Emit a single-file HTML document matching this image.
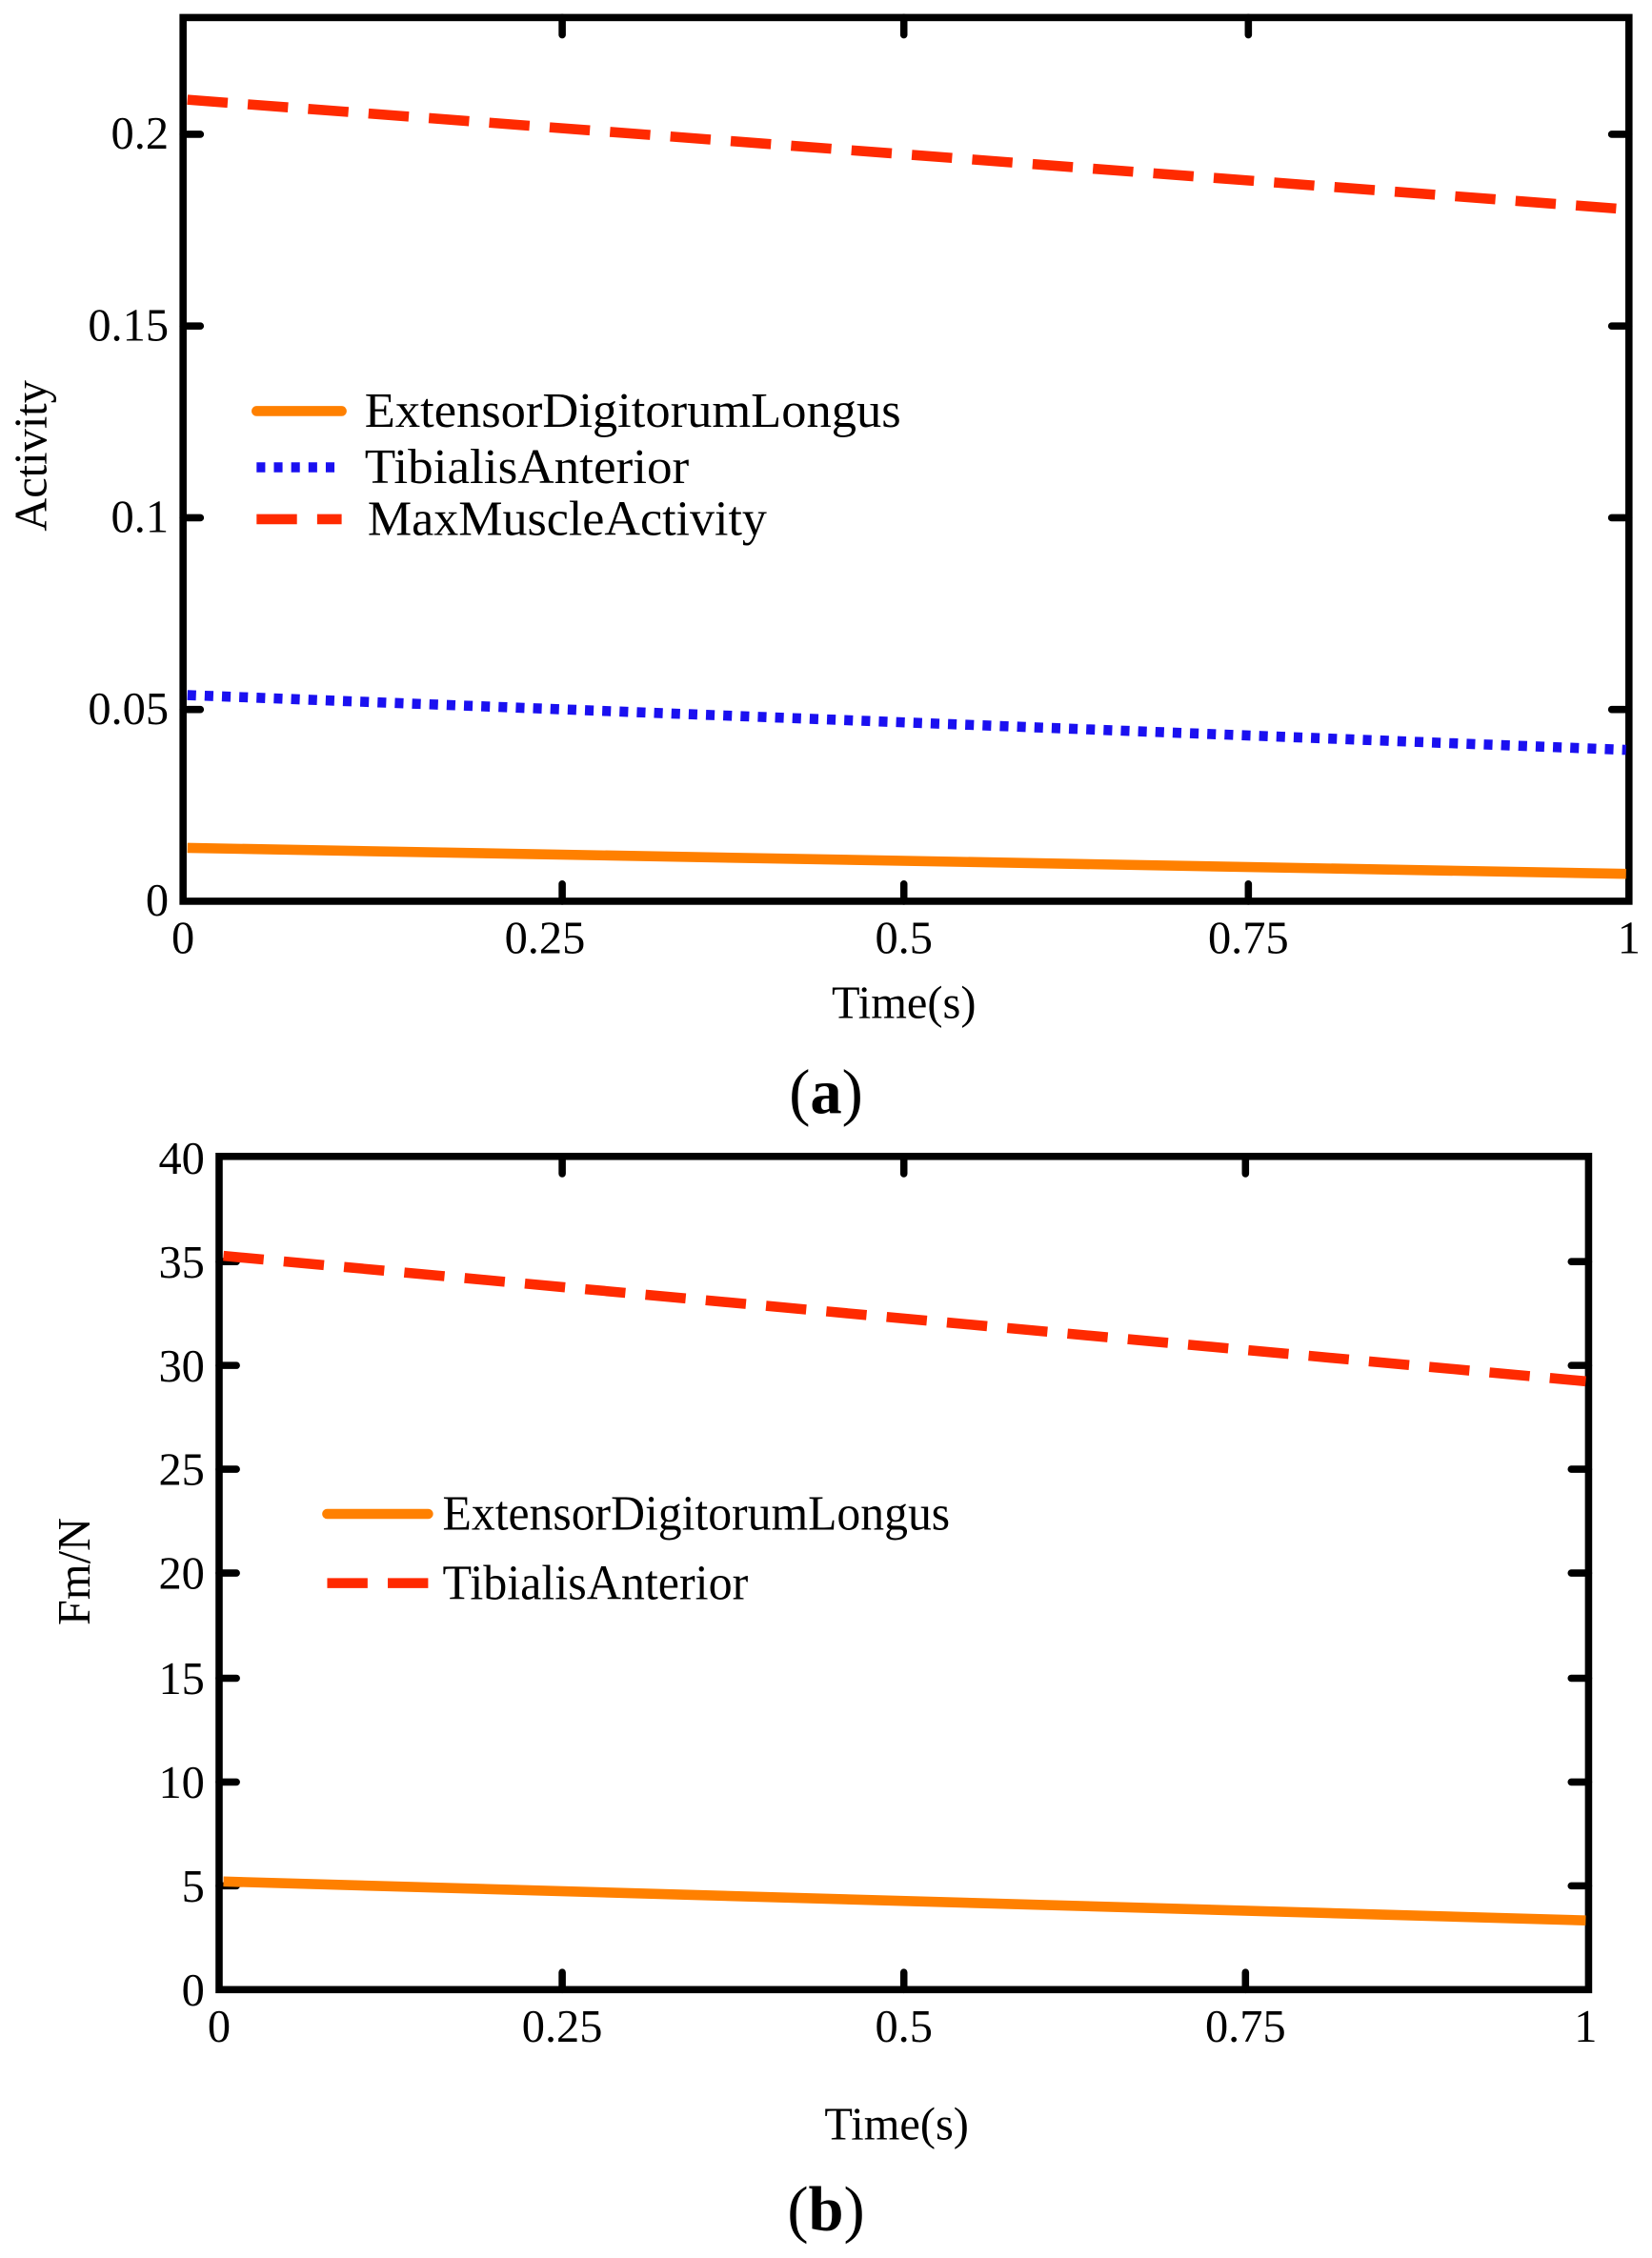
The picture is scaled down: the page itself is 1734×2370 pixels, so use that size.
<!DOCTYPE html>
<html><head><meta charset="utf-8"><style>html,body{margin:0;padding:0;background:#fff}svg{display:block}</style></head>
<body>
<svg width="1734" height="2370" viewBox="0 0 1146 1566" xmlns="http://www.w3.org/2000/svg" font-family="'Liberation Serif', serif">
<!-- Plot A -->
<g stroke="#000" stroke-width="5" fill="none">
<rect x="127" y="12" width="1003" height="613"/>
<path d="M390 625v-12M627 625v-12M866 625v-12M390 12v12M627 12v12M866 12v12
M127 492h12M127 359h12M127 226h12M127 93h12M1130 492h-12M1130 359h-12M1130 226h-12M1130 93h-12" stroke-linecap="round"/>
</g>
<line x1="130" y1="69" x2="1128" y2="145" stroke="#ff2a00" stroke-width="7" stroke-dasharray="28,14"/>
<line x1="130" y1="482" x2="1128" y2="520" stroke="#1a10f0" stroke-width="7" stroke-dasharray="6,6"/>
<line x1="130" y1="588" x2="1128" y2="606" stroke="#ff8000" stroke-width="7"/>
<g font-size="32" text-anchor="end">
<text x="117" y="635">0</text><text x="117" y="502">0.05</text><text x="117" y="369">0.1</text><text x="117" y="236">0.15</text><text x="117" y="103">0.2</text>
</g>
<g font-size="32" text-anchor="middle">
<text x="127" y="661">0</text><text x="378" y="661">0.25</text><text x="627" y="661">0.5</text><text x="866" y="661">0.75</text><text x="1130" y="661">1</text>
<text x="627" y="706">Time(s)</text>
<text x="573" y="772" font-size="44"><tspan>(</tspan><tspan font-weight="bold">a</tspan><tspan>)</tspan></text>
</g>
<text transform="translate(32,316) rotate(-90)" font-size="32" text-anchor="middle">Activity</text>
<line x1="178" y1="285" x2="237" y2="285" stroke="#ff8000" stroke-width="7" stroke-linecap="round"/>
<line x1="178" y1="324" x2="237" y2="324" stroke="#1a10f0" stroke-width="7" stroke-dasharray="6,6"/>
<line x1="178" y1="360" x2="237" y2="360" stroke="#ff2a00" stroke-width="7" stroke-dasharray="28,14"/>
<g font-size="34">
<text x="253" y="296" textLength="372" lengthAdjust="spacingAndGlyphs">ExtensorDigitorumLongus</text>
<text x="253" y="335" textLength="225" lengthAdjust="spacingAndGlyphs">TibialisAnterior</text>
<text x="255" y="371" textLength="277" lengthAdjust="spacingAndGlyphs">MaxMuscleActivity</text>
</g>
<!-- Plot B -->
<g stroke="#000" stroke-width="5" fill="none">
<rect x="152" y="802" width="950" height="578"/>
<path d="M390 1380v-12M627 1380v-12M864 1380v-12M390 802v12M627 802v12M864 802v12
M152 1308h12M152 1236h12M152 1164h12M152 1091h12M152 1019h12M152 947h12M152 875h12
M1102 1308h-12M1102 1236h-12M1102 1164h-12M1102 1091h-12M1102 1019h-12M1102 947h-12M1102 875h-12" stroke-linecap="round"/>
</g>
<line x1="155" y1="871" x2="1100" y2="958" stroke="#ff2a00" stroke-width="7" stroke-dasharray="28,14"/>
<line x1="155" y1="1305" x2="1100" y2="1332" stroke="#ff8000" stroke-width="7"/>
<g font-size="32" text-anchor="end">
<text x="142" y="1391">0</text><text x="142" y="1319">5</text><text x="142" y="1247">10</text><text x="142" y="1175">15</text><text x="142" y="1102">20</text><text x="142" y="1030">25</text><text x="142" y="958">30</text><text x="142" y="886">35</text><text x="142" y="814">40</text>
</g>
<g font-size="32" text-anchor="middle">
<text x="152" y="1416">0</text><text x="390" y="1416">0.25</text><text x="627" y="1416">0.5</text><text x="864" y="1416">0.75</text><text x="1100" y="1416">1</text>
<text x="622" y="1484">Time(s)</text>
<text x="573" y="1547" font-size="44"><tspan>(</tspan><tspan font-weight="bold">b</tspan><tspan>)</tspan></text>
</g>
<text transform="translate(62,1090) rotate(-90)" font-size="32" text-anchor="middle">Fm/N</text>
<line x1="227" y1="1050" x2="297" y2="1050" stroke="#ff8000" stroke-width="7" stroke-linecap="round"/>
<line x1="227" y1="1098" x2="297" y2="1098" stroke="#ff2a00" stroke-width="7" stroke-dasharray="28,14"/>
<g font-size="34">
<text x="307" y="1061" textLength="352" lengthAdjust="spacingAndGlyphs">ExtensorDigitorumLongus</text>
<text x="307" y="1109" textLength="212" lengthAdjust="spacingAndGlyphs">TibialisAnterior</text>
</g>
</svg>
</body></html>
